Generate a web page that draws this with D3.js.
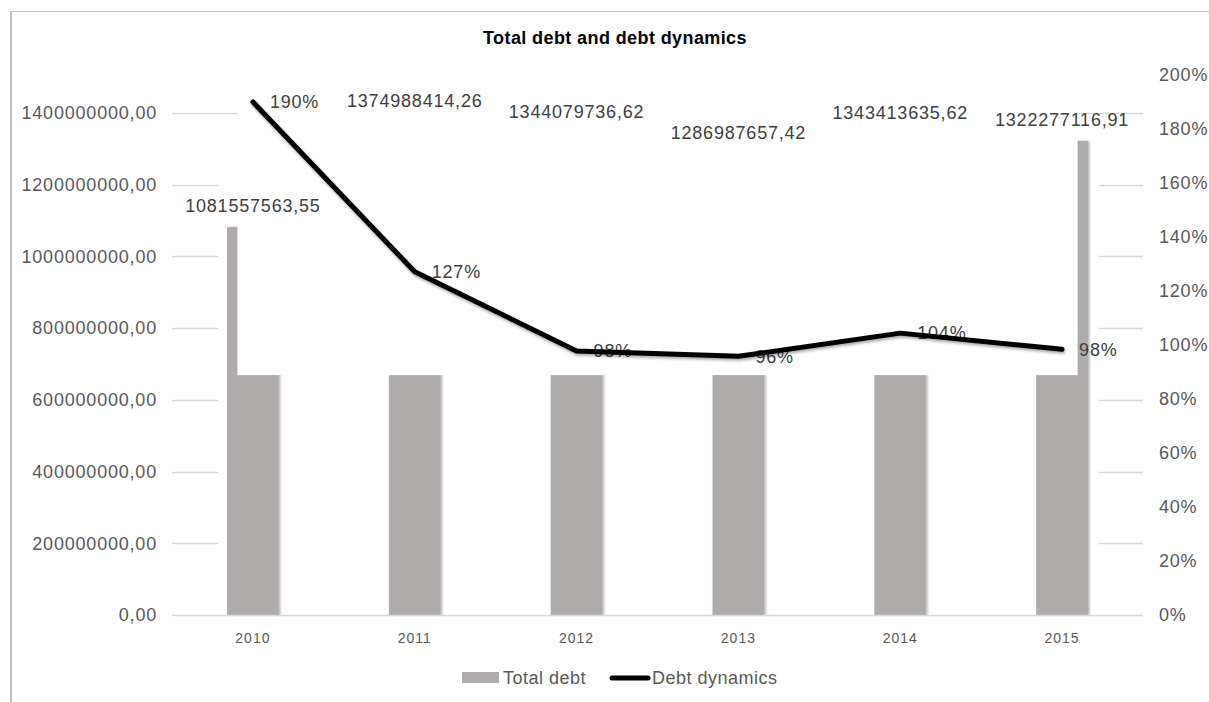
<!DOCTYPE html>
<html>
<head>
<meta charset="utf-8">
<script src="https://cdn.jsdelivr.net/npm/d3@7"></script>
<style>
  body { margin: 0; background: #fff; }
  svg { display: block; font-family: "Liberation Sans", Arial, sans-serif; }
</style>
</head>
<body>
<svg id="chart"></svg>
<script>
const width = 1209, height = 702;

// data
const years = ["2010", "2011", "2012", "2013", "2014", "2015"];
const totalDebt = [1081557563.55, 1374988414.26, 1344079736.62, 1286987657.42, 1343413635.62, 1322277116.91];
const debtLabels = ["1081557563,55", "1374988414,26", "1344079736,62", "1286987657,42", "1343413635,62", "1322277116,91"];
const dynamics = [1.90, 1.271, 0.978, 0.958, 1.044, 0.984];
const dynLabels = ["190%", "127%", "98%", "96%", "104%", "98%"];
const leftTicks = [0, 200e6, 400e6, 600e6, 800e6, 1000e6, 1200e6, 1400e6];
const leftTickLabels = ["0,00", "200000000,00", "400000000,00", "600000000,00", "800000000,00", "1000000000,00", "1200000000,00", "1400000000,00"];
const rightTicks = [0, 0.2, 0.4, 0.6, 0.8, 1.0, 1.2, 1.4, 1.6, 1.8, 2.0];

const svg = d3.select("#chart")
    .attr("width", width)
    .attr("height", height);

const defs = svg.append("defs");
defs.append("filter").attr("id", "barShadow")
    .attr("x", "-20%").attr("y", "-5%").attr("width", "140%").attr("height", "110%")
  .append("feDropShadow")
    .attr("dx", 1.5).attr("dy", 0).attr("stdDeviation", 1)
    .attr("flood-color", "#000").attr("flood-opacity", 0.3);
defs.append("filter").attr("id", "lineShadow")
    .attr("x", "-10%").attr("y", "-10%").attr("width", "120%").attr("height", "130%")
  .append("feDropShadow")
    .attr("dx", 1).attr("dy", 2).attr("stdDeviation", 1.5)
    .attr("flood-color", "#000").attr("flood-opacity", 0.35);

// frame
svg.append("line").attr("x1", 11).attr("x2", 11).attr("y1", 11).attr("y2", height)
    .attr("stroke", "#bfbfbf").attr("stroke-width", 2);
svg.append("line").attr("x1", 10).attr("x2", width).attr("y1", 11.5).attr("y2", 11.5)
    .attr("stroke", "#bfbfbf").attr("stroke-width", 1);

// scales
const plotLeft = 172, plotRight = 1143, plotBottom = 615;
const x = d3.scaleBand().domain(years).range([plotLeft, plotRight])
    .paddingInner(0.68).paddingOuter(0.34);
const yL = d3.scaleLinear().domain([0, 1400e6]).range([plotBottom, 113]);
const yR = d3.scaleLinear().domain([0, 2.0]).range([plotBottom, 75]);
const bw = x.bandwidth();

// gridlines
svg.selectAll(".grid")
    .data(leftTicks.slice(1))
    .enter().append("line")
    .attr("class", "grid")
    .attr("x1", plotLeft).attr("x2", plotRight)
    .attr("y1", d => Math.round(yL(d)) + 0.5).attr("y2", d => Math.round(yL(d)) + 0.5)
    .attr("stroke", "#d9d9d9").attr("stroke-width", 1.3);

// white panel hiding most gridlines
const maskLeft = x(years[0]) - 9, maskRight = x(years[5]) + bw + 11;
svg.append("rect")
    .attr("x", maskLeft).attr("y", yL(1400e6) + 2)
    .attr("width", maskRight - maskLeft).attr("height", plotBottom - yL(1400e6) - 3)
    .attr("fill", "#fff");

// bars
svg.selectAll(".bar")
    .data(totalDebt)
    .enter().append("rect")
    .attr("class", "bar")
    .attr("x", (d, i) => x(years[i]))
    .attr("y", d => yL(d))
    .attr("width", bw)
    .attr("height", d => plotBottom - yL(d))
    .attr("fill", "#afabab")
    .attr("filter", "url(#barShadow)");

// baseline
svg.append("line")
    .attr("x1", plotLeft).attr("x2", plotRight)
    .attr("y1", plotBottom + 0.5).attr("y2", plotBottom + 0.5)
    .attr("stroke", "#d9d9d9").attr("stroke-width", 1.5);

// upper white panel over the bars
const m2Left = x(years[0]) + bw * 0.2, m2Right = x(years[5]) + bw * 0.8;
svg.append("rect")
    .attr("x", m2Left).attr("y", 60)
    .attr("width", m2Right - m2Left).attr("height", yL(669e6) - 60)
    .attr("fill", "#fff");

// left axis labels
svg.selectAll(".lt")
    .data(leftTicks)
    .enter().append("text")
    .attr("class", "lt")
    .attr("x", 157)
    .attr("y", d => yL(d))
    .attr("dy", "0.35em")
    .attr("text-anchor", "end")
    .attr("font-size", 18).attr("letter-spacing", 0.8)
    .attr("fill", "#595959")
    .text((d, i) => leftTickLabels[i]);

// right axis labels
svg.selectAll(".rt")
    .data(rightTicks)
    .enter().append("text")
    .attr("class", "rt")
    .attr("x", 1159)
    .attr("y", d => yR(d))
    .attr("dy", "0.35em")
    .attr("font-size", 18).attr("letter-spacing", 0.8)
    .attr("fill", "#595959")
    .text(d => d3.format(".0%")(d));

// x axis labels
svg.selectAll(".xt")
    .data(years)
    .enter().append("text")
    .attr("class", "xt")
    .attr("x", d => x(d) + bw / 2)
    .attr("y", 638)
    .attr("dy", "0.35em")
    .attr("text-anchor", "middle")
    .attr("font-size", 14).attr("letter-spacing", 1)
    .attr("fill", "#595959")
    .text(d => d);

// bar labels
svg.selectAll(".bl")
    .data(totalDebt)
    .enter().append("text")
    .attr("class", "bl")
    .attr("x", (d, i) => x(years[i]) + bw / 2)
    .attr("y", d => yL(d) - 21)
    .attr("dy", "0.35em")
    .attr("text-anchor", "middle")
    .attr("font-size", 18).attr("letter-spacing", 0.8)
    .attr("fill", "#404040")
    .text((d, i) => debtLabels[i]);

// line labels (under the line)
svg.selectAll(".ll")
    .data(dynamics)
    .enter().append("text")
    .attr("class", "ll")
    .attr("x", (d, i) => x(years[i]) + bw / 2 + 17)
    .attr("y", d => yR(d))
    .attr("dy", "0.35em")
    .attr("font-size", 18).attr("letter-spacing", 0.8)
    .attr("fill", "#404040")
    .text((d, i) => dynLabels[i]);

// line
const line = d3.line()
    .x((d, i) => x(years[i]) + bw / 2)
    .y(d => yR(d));
svg.append("path")
    .datum(dynamics)
    .attr("d", line)
    .attr("fill", "none")
    .attr("stroke", "#000")
    .attr("stroke-width", 5)
    .attr("stroke-linejoin", "round")
    .attr("stroke-linecap", "round")
    .attr("filter", "url(#lineShadow)");

// title
svg.append("text")
    .attr("x", 615).attr("y", 38).attr("dy", "0.35em")
    .attr("text-anchor", "middle")
    .attr("font-size", 18).attr("font-weight", "bold").attr("letter-spacing", 0.4)
    .attr("fill", "#000")
    .text("Total debt and debt dynamics");

// legend
const legend = svg.append("g");
legend.append("rect")
    .attr("x", 462).attr("y", 672).attr("width", 37).attr("height", 11)
    .attr("fill", "#afabab");
legend.append("text")
    .attr("x", 503).attr("y", 678).attr("dy", "0.35em")
    .attr("font-size", 18).attr("letter-spacing", 0.5)
    .attr("fill", "#595959")
    .text("Total debt");
legend.append("line")
    .attr("x1", 612).attr("x2", 648).attr("y1", 678).attr("y2", 678)
    .attr("stroke", "#000").attr("stroke-width", 5).attr("stroke-linecap", "round");
legend.append("text")
    .attr("x", 652).attr("y", 678).attr("dy", "0.35em")
    .attr("font-size", 18).attr("letter-spacing", 0.5)
    .attr("fill", "#595959")
    .text("Debt dynamics");
</script>
</body>
</html>
